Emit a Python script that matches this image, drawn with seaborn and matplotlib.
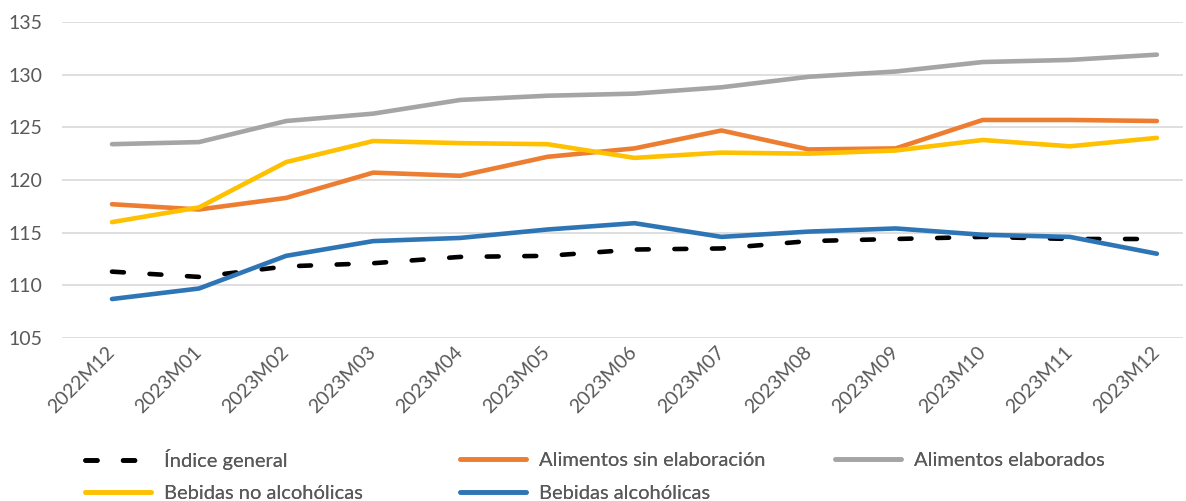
import numpy as np
import pandas as pd
import matplotlib

matplotlib.use("Agg")
import matplotlib.pyplot as plt
import seaborn as sns

months = [
    "2022M12", "2023M01", "2023M02", "2023M03", "2023M04", "2023M05", "2023M06",
    "2023M07", "2023M08", "2023M09", "2023M10", "2023M11", "2023M12",
]
indice_general = [111.3, 110.8, 111.8, 112.1, 112.7, 112.8, 113.4, 113.5, 114.2, 114.4, 114.6, 114.4, 114.4]
alim_sin_elab = [117.7, 117.2, 118.3, 120.7, 120.4, 122.2, 123.0, 124.7, 122.9, 123.0, 125.7, 125.7, 125.6]
alim_elaborados = [123.4, 123.6, 125.6, 126.3, 127.6, 128.0, 128.2, 128.8, 129.8, 130.3, 131.2, 131.4, 131.9]
bebidas_no_alc = [116.0, 117.4, 121.7, 123.7, 123.5, 123.4, 122.1, 122.6, 122.5, 122.8, 123.8, 123.2, 124.0]
bebidas_alc = [108.7, 109.7, 112.8, 114.2, 114.5, 115.3, 115.9, 114.6, 115.1, 115.4, 114.8, 114.6, 113.0]

series = {
    "Índice general": indice_general,
    "Alimentos sin elaboración": alim_sin_elab,
    "Alimentos elaborados": alim_elaborados,
    "Bebidas no alcohólicas": bebidas_no_alc,
    "Bebidas alcohólicas": bebidas_alc,
}
colors = {
    "Índice general": "#000000",
    "Alimentos sin elaboración": "#ED7D31",
    "Alimentos elaborados": "#A5A5A5",
    "Bebidas no alcohólicas": "#FFC000",
    "Bebidas alcohólicas": "#2E75B6",
}

df = pd.DataFrame(series)
df["pos"] = np.arange(len(months))

sns.set_theme(style="white")
plt.rcParams["font.family"] = ["Lato", "DejaVu Sans"]
txt_color = "#595959"

fig = plt.figure(figsize=(11.86, 5.01), dpi=100)
ax = fig.add_axes([62 / 1186, 1 - 338 / 501, 1121 / 1186, 316 / 501])

handles = {}
for name in series:
    sns.lineplot(data=df, x="pos", y=name, ax=ax, color=colors[name], linewidth=3.3,
                 label=name, legend=False)
    line = ax.lines[-1]
    line.set_solid_capstyle("round")
    if name == "Índice general":
        line.set_dashes((2.6, 5.6))
        line.set_dash_capstyle("round")
    handles[name] = line

ax.set_xlim(-0.574, 12.3)
ax.set_ylim(105, 135)
ax.set_yticks(np.arange(105, 136, 5))
ax.set_xticks(np.arange(len(months)))
ax.set_xticklabels(months, rotation=45, ha="right", va="center", rotation_mode="anchor")
ax.tick_params(axis="y", length=0, pad=14, labelsize=14, labelcolor=txt_color)
ax.tick_params(axis="x", length=0, pad=8, labelsize=14, labelcolor=txt_color)
ax.set_xlabel("")
ax.set_ylabel("")
ax.yaxis.grid(True, color="#D9D9D9", linewidth=1.2)
ax.xaxis.grid(False)
for spine in ax.spines.values():
    spine.set_visible(False)

# legend entries on a fixed grid, like the original
legend_pos = {
    "Índice general": (85, 460),
    "Alimentos sin elaboración": (460, 460),
    "Alimentos elaborados": (835, 460),
    "Bebidas no alcohólicas": (85, 493),
    "Bebidas alcohólicas": (460, 493),
}
for name, (x0, y0) in legend_pos.items():
    leg = fig.legend(
        [handles[name]], [name],
        loc="center left", bbox_to_anchor=(x0 / 1186, 1 - y0 / 501),
        frameon=False, fontsize=14.5, handlelength=3.3, handletextpad=0.6,
        borderpad=0, borderaxespad=0, labelcolor=txt_color,
    )
    fig.add_artist(leg)

fig.savefig("out.png", dpi=100)
